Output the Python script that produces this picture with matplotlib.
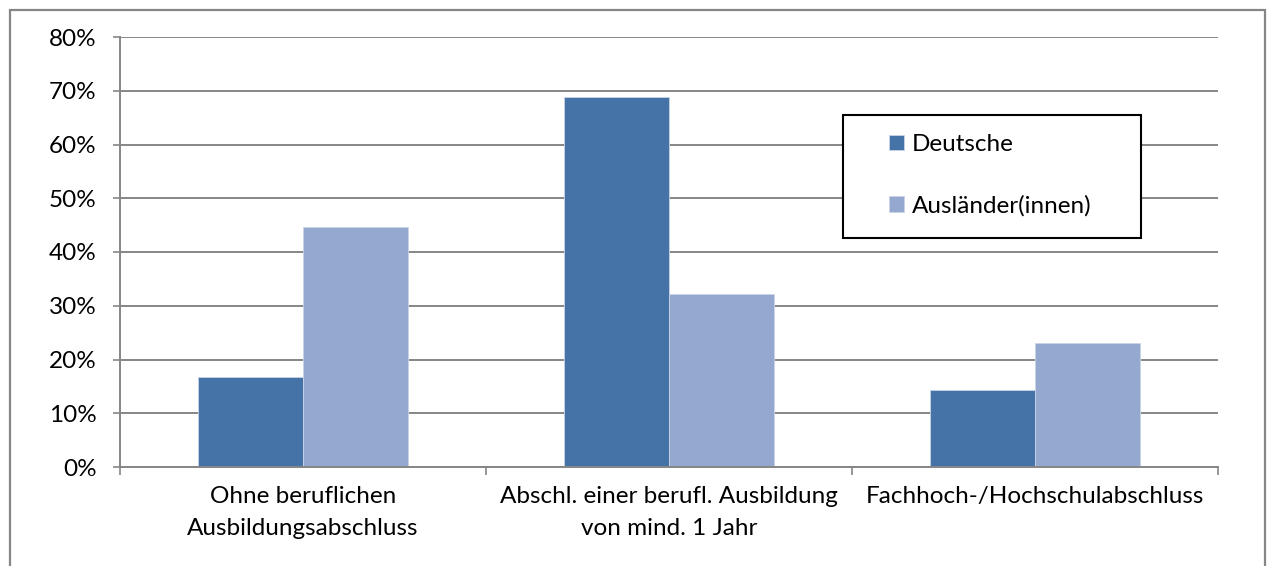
import numpy as np
import matplotlib
matplotlib.use("Agg")
import matplotlib.pyplot as plt
from matplotlib.patches import Rectangle
from matplotlib.ticker import PercentFormatter

plt.rcParams['font.family'] = ['Lato', 'DejaVu Sans']

# data (percent)
categories = ["Ohne beruflichen\nAusbildungsabschluss",
              "Abschl. einer berufl. Ausbildung\nvon mind. 1 Jahr",
              "Fachhoch-/Hochschulabschluss"]
deutsche = [16.7, 68.9, 14.3]
auslaender = [44.6, 32.1, 23.1]
series_names = ["Deutsche", "Ausländer(innen)"]
yticks = [0, 10, 20, 30, 40, 50, 60, 70, 80]

W, H = 1267, 566
fig = plt.figure(figsize=(W / 100, H / 100), dpi=100)
ax = fig.add_axes([120 / W, 1 - 467 / H, (1218 - 120) / W, (467 - 37) / H])

grey = "#868686"
c_de = "#4573a7"
c_au = "#95a9d0"
fs = 17.5

x = np.arange(len(categories))
bw = 1 / 3.5  # gap width 150%
ax.bar(x - bw / 2, deutsche, bw, color=c_de, edgecolor="#c9d4e6", linewidth=0.6, label=series_names[0], zorder=2)
ax.bar(x + bw / 2, auslaender, bw, color=c_au, edgecolor="#c9d4e6", linewidth=0.6, label=series_names[1], zorder=2)

ax.set_xlim(-0.5, len(categories) - 0.5)
ax.set_ylim(0, 80)
ax.set_yticks(yticks)
ax.yaxis.set_major_formatter(PercentFormatter(decimals=0))
ax.yaxis.grid(True, color=grey, linewidth=1.4)
ax.set_axisbelow(True)

ax.set_xticks(x)
ax.set_xticklabels(categories, fontsize=fs, linespacing=1.65)
ax.set_xticks(np.arange(len(categories) + 1) - 0.5, minor=True)
ax.tick_params(axis="x", which="major", length=0, pad=14)
ax.tick_params(axis="x", which="minor", length=6, width=1.2, color=grey, direction="out")
ax.tick_params(axis="y", length=5, width=1.2, color=grey, direction="out", labelsize=fs, pad=12)

for s in ["top", "right"]:
    ax.spines[s].set_visible(False)
for s in ["left", "bottom"]:
    ax.spines[s].set_color(grey)
    ax.spines[s].set_linewidth(1.4)

# legend box
fig.patches.append(Rectangle((843 / W, 1 - 238 / H), (1141 - 843) / W, (238 - 115) / H,
                             transform=fig.transFigure, facecolor="white",
                             edgecolor="black", linewidth=1.5, zorder=5))
leg = fig.legend(loc="upper left", bbox_to_anchor=(889 / W, 1 - 134 / H), frameon=False,
                 fontsize=fs, handlelength=0.6, handleheight=0.6, handletextpad=0.35,
                 labelspacing=1.65, borderpad=0, borderaxespad=0)
leg.set_zorder(6)

# outer chart frame
fig.patches.append(Rectangle((10 / W, -0.1), (1265 - 10) / W, 1.1 - 10 / H,
                             transform=fig.transFigure, facecolor="none",
                             edgecolor=grey, linewidth=1.6, zorder=0))

fig.savefig("out.png", dpi=100)
